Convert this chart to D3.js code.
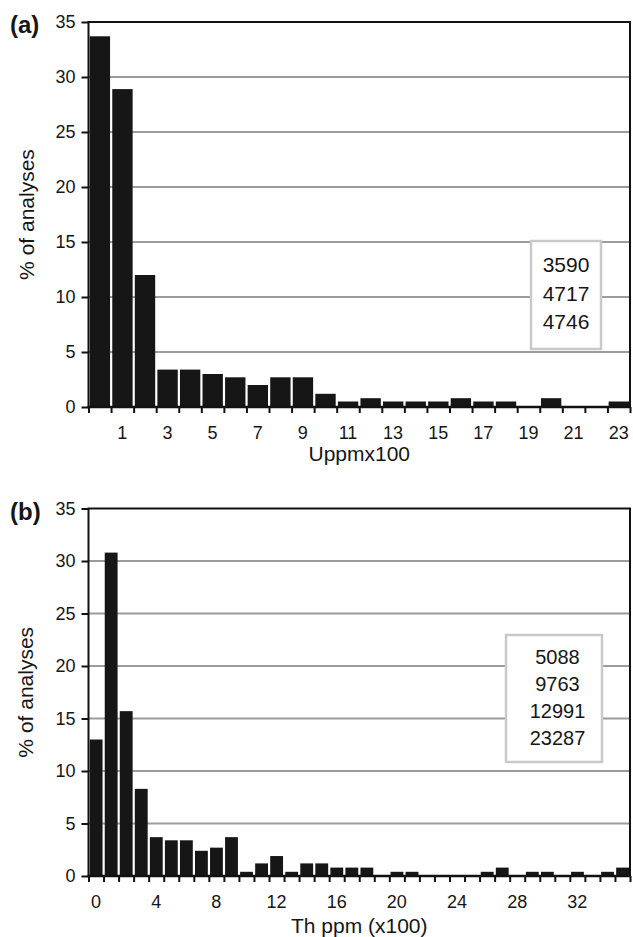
<!DOCTYPE html>
<html><head><meta charset="utf-8">
<script src="https://cdn.jsdelivr.net/npm/d3@7"></script>
<style>
body{margin:0;background:#fff}
svg{display:block}
text{font-family:"Liberation Sans",Arial,Helvetica,sans-serif;fill:#161616}
</style>
</head><body>
<svg id="c" width="633" height="937"></svg>
<script>
// ---- data ----
const uValues = [33.7, 28.9, 12.0, 3.4, 3.4, 3.0, 2.7, 2.0, 2.7, 2.7, 1.2, 0.5, 0.8, 0.5, 0.5, 0.5, 0.8, 0.5, 0.5, 0, 0.8, 0, 0, 0.5];
const uTickLabels = ["1","3","5","7","9","11","13","15","17","19","21","23"];
const uLegend = ["3590","4717","4746"];

const thValues = [13.0, 30.8, 15.7, 8.3, 3.7, 3.4, 3.4, 2.4, 2.7, 3.7,
                  0.4, 1.2, 1.9, 0.4, 1.2, 1.2, 0.8, 0.8, 0.8, 0,
                  0.4, 0.4, 0, 0, 0, 0, 0.4, 0.8, 0, 0.4,
                  0.4, 0, 0.4, 0, 0.4, 0.8];
const thTickLabels = ["0","4","8","12","16","20","24","28","32"];
const thLegend = ["5088","9763","12991","23287"];

const yTicks = [0,5,10,15,20,25,30,35];
const yTitle = "% of analyses";

const svg = d3.select("#c");

function panel(cfg){
  const {values, tickLabels, legend, top, bottom, left, right, tag, tagY, xTitle, xTitleY, yTitleX, box, textX, lineH, firstBase, legendFont} = cfg;
  const g = svg.append("g");
  const n = values.length;
  const cats = d3.range(n).map(String);
  const xEdge = d3.scaleLinear().domain([0, n]).range([left, right]);
  const xBand = d3.scaleBand().domain(cats).range([left, right]).padding(0);
  const y = d3.scaleLinear().domain([0, 35]).range([bottom, top]);

  // grid
  g.append("g").selectAll("line").data(yTicks.filter(v => v > 0 && v < 35)).join("line")
    .attr("x1", left).attr("x2", right)
    .attr("y1", d => y(d)).attr("y2", d => y(d))
    .attr("stroke", "#9c9c9c").attr("stroke-width", 2);

  // legend box
  g.append("rect").attr("x", box[0]).attr("y", box[1]).attr("width", box[2]).attr("height", box[3])
    .attr("fill", "#fff").attr("stroke", "#c9c9c9").attr("stroke-width", 2.5);
  g.append("g").selectAll("text").data(legend).join("text")
    .attr("x", textX).attr("y", (d, i) => firstBase + i * lineH)
    .attr("text-anchor", "middle").style("font-size", legendFont + "px").text(d => d);

  // bars
  g.append("g").selectAll("rect").data(values).join("rect")
    .attr("x", (d, i) => xBand(String(i)) + 1.2)
    .attr("width", xBand.bandwidth() - 2.2)
    .attr("y", d => y(d))
    .attr("height", d => y(0) - y(d))
    .attr("fill", "#161616");

  // frame
  g.append("path")
    .attr("d", `M${left},${bottom}V${top}H${right}V${bottom}`)
    .attr("fill", "none").attr("stroke", "#111").attr("stroke-width", 2);
  g.append("line").attr("x1", left - 1).attr("x2", right + 1).attr("y1", bottom).attr("y2", bottom)
    .attr("stroke", "#111").attr("stroke-width", 2.5);

  // y axis
  const ya = g.append("g").attr("transform", `translate(${left},0)`)
    .call(d3.axisLeft(y).tickValues(yTicks).tickSize(7).tickPadding(6));
  ya.select(".domain").remove();
  ya.selectAll(".tick line").attr("stroke", "#111").attr("stroke-width", 2);
  ya.selectAll(".tick text").style("font-size", "18px").attr("font-family", null);

  // x edge ticks
  const xa = g.append("g").attr("transform", `translate(0,${bottom})`)
    .call(d3.axisBottom(xEdge).tickValues(d3.range(n + 1)).tickSize(6).tickFormat(""));
  xa.select(".domain").remove();
  xa.selectAll(".tick line").attr("stroke", "#111").attr("stroke-width", 2);

  // x labels
  const xl = g.append("g").attr("transform", `translate(0,${bottom})`)
    .call(d3.axisBottom(xBand).tickValues(tickLabels).tickSize(0).tickPadding(19));
  xl.select(".domain").remove();
  xl.selectAll(".tick text").style("font-size", "18px").attr("font-family", null);

  // titles
  g.append("text").attr("x", (left + right) / 2).attr("y", xTitleY)
    .attr("text-anchor", "middle").style("font-size", "21px").text(xTitle);
  g.append("text").attr("transform", `translate(${yTitleX},${(top + bottom) / 2}) rotate(-90)`)
    .attr("text-anchor", "middle").style("font-size", "21px").text(yTitle);
  g.append("text").attr("x", 10).attr("y", tagY)
    .style("font-size", "24px").style("font-weight", "bold").text(tag);
}

panel({values: uValues, tickLabels: uTickLabels, legend: uLegend,
  top: 22, bottom: 407, left: 88.5, right: 630,
  tag: "(a)", tagY: 33, xTitle: "Uppmx100", xTitleY: 461, yTitleX: 34,
  box: [531, 241, 70, 108], textX: 566, lineH: 28.7, firstBase: 272, legendFont: 21});

panel({values: thValues, tickLabels: thTickLabels, legend: thLegend,
  top: 508.5, bottom: 876, left: 88.5, right: 630,
  tag: "(b)", tagY: 520, xTitle: "Th ppm (x100)", xTitleY: 933, yTitleX: 32.5,
  box: [506, 635, 96, 127], textX: 557.5, lineH: 27.3, firstBase: 663.5, legendFont: 20});
</script>
</body></html>
